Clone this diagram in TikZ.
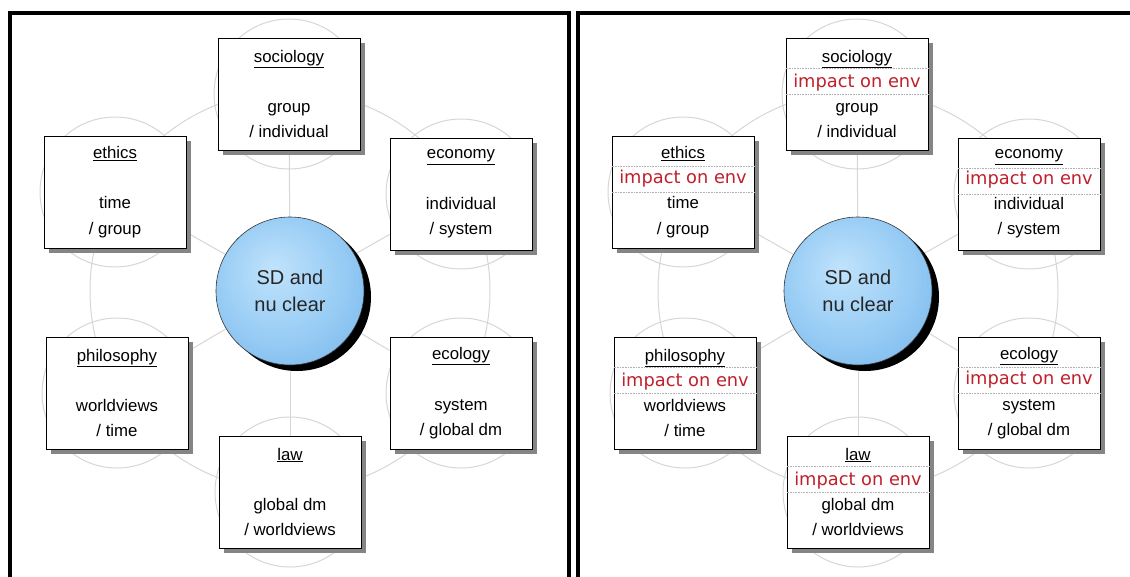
\documentclass[tikz,border=0pt]{standalone}
\usepackage{fontspec}
\setmainfont{Liberation Sans}
\newfontfamily\envfont{DejaVu Sans}
\usetikzlibrary{positioning,shadows,backgrounds}

\definecolor{ringgray}{RGB}{214,214,214}
\definecolor{envred}{RGB}{192,32,44}
\definecolor{hubin}{RGB}{192,227,252}
\definecolor{hubmid}{RGB}{150,203,244}
\definecolor{hubout}{RGB}{92,164,228}
\pgfdeclareradialshading{hubshade}{\pgfpoint{-6bp}{8bp}}{color(0bp)=(hubin); color(22bp)=(hubmid); color(50bp)=(hubout)}
\newcommand{\envline}{{\envfont\fontsize{17.8}{25.3}\selectfont\color{envred}impact on env}}

\begin{document}
\begin{tikzpicture}[
  x=1pt, y=-1pt,
  font=\fontsize{16.8}{25.3}\selectfont,
  panel/.style={line width=4pt},
  ring/.style={draw=ringgray, line width=1pt},
  topic/.style={draw=black, line width=0.8pt, fill=white, minimum width=142pt, minimum height=112pt,
    inner sep=0pt, align=center, drop shadow={shadow xshift=5pt, shadow yshift=-5pt, fill=black!48, opacity=1}},
  hub/.style={circle, draw=black!80, line width=0.6pt, shading=hubshade, minimum size=148pt, inner sep=0pt,
    align=center, text=black!85, font=\fontsize{20}{27}\selectfont,
    drop shadow={shadow xshift=7pt, shadow yshift=-6pt, fill=black, opacity=1}},
  envrule/.style={draw=black!30, line width=0.6pt, densely dotted}
]
\useasboundingbox (0,0) rectangle (1130,576);

% panel frames
\draw[panel] (10,580) -- (10,13) -- (569,13) -- (569,580);
\draw[panel] (578,580) -- (578,13) -- (1134,13);

% left panel
\node[hub] (hub) at (290,291) {SD and\\nu clear};
\node[topic] (soc) at (289,94) {\underline{sociology}\\ \strut\\ group\\ / individual};
\node[topic] (eth) at (115,192) {\underline{ethics}\\ \strut\\ time\\ / group};
\node[topic] (eco) at (461,194) {\underline{economy}\\ \strut\\ individual\\ / system};
\node[topic] (phi) at (117,393) {\underline{philosophy}\\ \strut\\ worldviews\\ / time};
\node[topic] (ecol) at (461,393) {\underline{ecology}\\ \strut\\ system\\ / global dm};
\node[topic] (law) at (290,492) {\underline{law}\\ \strut\\ global dm\\ / worldviews};

% right panel
\begin{scope}[xshift=568pt]
\node[hub] (hub2) at (290,291) {SD and\\nu clear};
\node[topic] (soc2) at (289,94) {\underline{sociology}\\ \envline\\ group\\ / individual};
\node[topic] (eth2) at (115,192) {\underline{ethics}\\ \envline\\ time\\ / group};
\node[topic] (eco2) at (461,194) {\underline{economy}\\ \envline\\ individual\\ / system};
\node[topic] (phi2) at (117,393) {\underline{philosophy}\\ \envline\\ worldviews\\ / time};
\node[topic] (ecol2) at (461,393) {\underline{ecology}\\ \envline\\ system\\ / global dm};
\node[topic] (law2) at (290,492) {\underline{law}\\ \envline\\ global dm\\ / worldviews};
\end{scope}

% rules round the red line
\foreach \n in {soc2,eth2,eco2,phi2,ecol2,law2} {
  \draw[envrule] ([yshift=-31pt]\n.north west) -- ([yshift=-31pt]\n.north east);
  \draw[envrule] ([yshift=-57pt]\n.north west) -- ([yshift=-57pt]\n.north east);
}

% grey ring behind
\begin{scope}[on background layer]
  \draw[ring] (hub.center) circle[radius=200];
  \draw[ring] (hub2.center) circle[radius=200];
  \foreach \n in {soc,eth,eco,phi,ecol,law} {
    \draw[ring] (\n.center) circle[radius=75];
    \draw[ring] (hub) -- (\n);
    \draw[ring] (\n2.center) circle[radius=75];
    \draw[ring] (hub2) -- (\n2);
  }
\end{scope}
\end{tikzpicture}
\end{document}
